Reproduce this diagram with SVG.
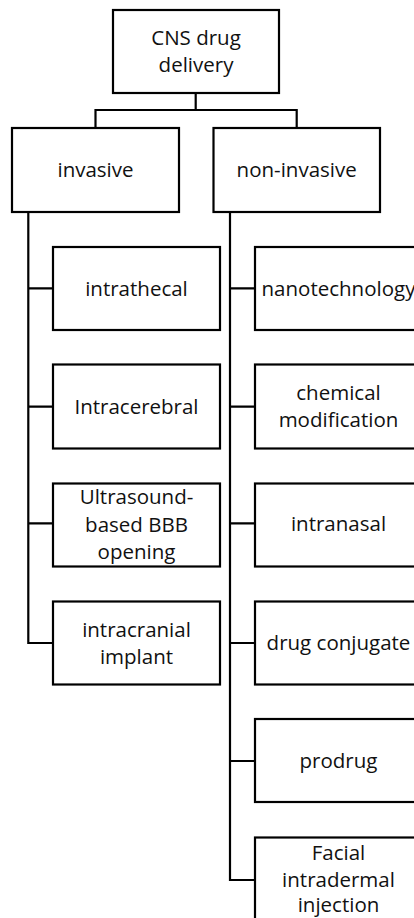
<svg xmlns="http://www.w3.org/2000/svg" width="414" height="918" viewBox="0 0 414 918">
<style>
.box{fill:#fff;stroke:#000;stroke-width:2.2}
.ln{fill:none;stroke:#000;stroke-width:2.2}
text{font-family:"Open Sans","Liberation Sans",sans-serif;font-size:20.5px;fill:#111;text-anchor:middle}
</style>
<rect width="414" height="918" fill="#fff"/>
<g id="connectors">
<path class="ln" d="M195.7,93 V110 M95.5,110 H296.7 M95.5,109 V128 M296.7,109 V128"/>
<path class="ln" d="M28.3,212 V643 H53 M28.3,288.3 H53 M28.3,406.7 H53 M28.3,523.3 H53"/>
<path class="ln" d="M230,212 V880 H255 M230,288.3 H255 M230,406.7 H255 M230,523.3 H255 M230,643 H255 M230,761 H255"/>
</g>
<g id="root"><rect class="box" x="113" y="10" width="166" height="83"/><text x="196" y="45">CNS drug</text><text x="196" y="72">delivery</text></g>
<g id="invasive"><rect class="box" x="12" y="128" width="167" height="84"/><text x="95.5" y="177">invasive</text></g>
<g id="non-invasive"><rect class="box" x="213.5" y="128" width="166.5" height="84"/><text x="296.7" y="177">non-invasive</text></g>
<g id="intrathecal"><rect class="box" x="53" y="247" width="167" height="83"/><text x="136.5" y="295.5">intrathecal</text></g>
<g id="intracerebral"><rect class="box" x="53" y="364.5" width="167" height="84"/><text x="136.5" y="414">Intracerebral</text></g>
<g id="ultrasound"><rect class="box" x="53" y="483.5" width="167" height="83"/><text x="136.5" y="503.5">Ultrasound-</text><text x="136.5" y="531.5">based BBB</text><text x="136.5" y="559">opening</text></g>
<g id="intracranial"><rect class="box" x="53" y="601.5" width="167" height="83"/><text x="136.5" y="637">intracranial</text><text x="136.5" y="663.5">implant</text></g>
<g id="nanotechnology"><rect class="box" x="255" y="247" width="167" height="83"/><text x="338.5" y="295.5">nanotechnology</text></g>
<g id="chemical"><rect class="box" x="255" y="364.5" width="167" height="84"/><text x="338.5" y="400">chemical</text><text x="338.5" y="426.5">modification</text></g>
<g id="intranasal"><rect class="box" x="255" y="483.5" width="167" height="83"/><text x="338.5" y="531">intranasal</text></g>
<g id="drug-conjugate"><rect class="box" x="255" y="601.5" width="167" height="83"/><text x="338.5" y="650">drug conjugate</text></g>
<g id="prodrug"><rect class="box" x="255" y="719" width="167" height="83"/><text x="338.5" y="768">prodrug</text></g>
<g id="facial"><rect class="box" x="255" y="837.5" width="167" height="83"/><text x="338.5" y="860">Facial</text><text x="338.5" y="886.5">intradermal</text><text x="338.5" y="912">injection</text></g>
</svg>
